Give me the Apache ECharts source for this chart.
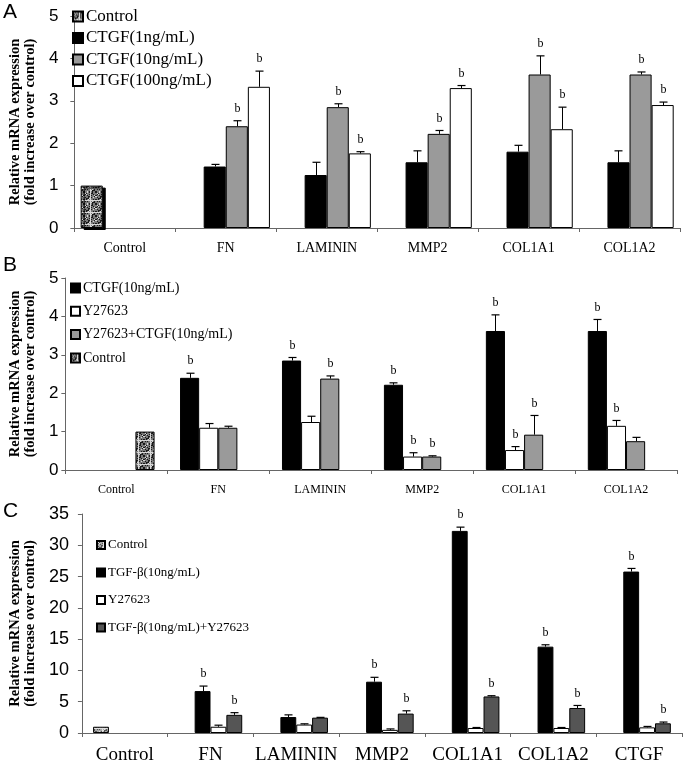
<!DOCTYPE html>
<html><head><meta charset="utf-8">
<script src="https://cdn.jsdelivr.net/npm/echarts@6/dist/echarts.min.js"></script>
<style>html,body{margin:0;padding:0;background:#fff}#c{width:684px;height:772px}</style>
</head><body><div id="c"></div>
<script>
// ---------- Panel A ----------
const catsA = ['Control','FN','LAMININ','MMP2','COL1A1','COL1A2'];
const aControl    = [1.0,'-','-','-','-','-'];
const aCtgf1      = ['-',1.45,1.25,1.55,1.80,1.55];
const aCtgf1Sd    = [0,0.05,0.30,0.27,0.15,0.27];
const aCtgf1Sig   = [0,0,0,0,0,0];
const aCtgf10     = ['-',2.40,2.85,2.22,3.62,3.62];
const aCtgf10Sd   = [0,0.13,0.08,0.08,0.44,0.06];
const aCtgf10Sig  = [0,1,1,1,1,1];
const aCtgf100    = ['-',3.33,1.76,3.30,2.33,2.90];
const aCtgf100Sd  = [0,0.37,0.04,0.06,0.52,0.07];
const aCtgf100Sig = [0,1,1,1,1,1];

// ---------- Panel B ----------
const catsB = ['Control','FN','LAMININ','MMP2','COL1A1','COL1A2'];
const bCtgf10     = ['-',2.40,2.85,2.22,3.62,3.62];
const bCtgf10Sd   = [0,0.12,0.08,0.05,0.42,0.30];
const bCtgf10Sig  = [0,1,1,1,1,1];
const bY          = ['-',1.10,1.25,0.35,0.52,1.15];
const bYSd        = [0,0.11,0.15,0.10,0.09,0.14];
const bYSig       = [0,0,0,1,1,1];
const bYCtgf      = ['-',1.10,2.38,0.35,0.92,0.75];
const bYCtgfSd    = [0,0.04,0.07,0.02,0.50,0.10];
const bYCtgfSig   = [0,0,1,1,1,0];
const bControl    = [1.0,'-','-','-','-','-'];

// ---------- Panel C ----------
const catsC = ['Control','FN','LAMININ','MMP2','COL1A1','COL1A2','CTGF'];
const cControl    = [1.0,'-','-','-','-','-','-'];
const cTgf        = ['-',6.7,2.55,8.2,32.3,13.8,25.8];
const cTgfSd      = [0,0.8,0.35,0.7,0.6,0.3,0.5];
const cTgfSig     = [0,1,0,1,1,1,1];
const cY          = ['-',1.0,1.35,0.5,0.8,0.8,0.9];
const cYSd        = [0,0.25,0.12,0.15,0.08,0.08,0.15];
const cYSig       = [0,0,0,0,0,0,0];
const cTgfY       = ['-',2.9,2.45,3.1,5.84,4.0,1.55];
const cTgfYSd     = [0,0.35,0.05,0.45,0.12,0.4,0.2];
const cTgfYSig    = [0,1,0,1,1,1,1];

function makePattern(base, dark, light){
  const cv = document.createElement('canvas'); cv.width = 12; cv.height = 12;
  const ctx = cv.getContext('2d');
  ctx.fillStyle = base; ctx.fillRect(0,0,12,12);
  for (let i=0;i<12;i++) for (let j=0;j<12;j++){
    const h = (i*73 + j*151 + i*j*17) % 11;
    if (h < 3) { ctx.fillStyle = dark; ctx.fillRect(i,j,1,1); }
    else if (h > 8) { ctx.fillStyle = light; ctx.fillRect(i,j,1,1); }
  }
  return {image: cv, repeat: 'repeat'};
}
const patDark = makePattern('#7a7a7a','#1a1a1a','#d8d8d8');
const patLight = makePattern('#a8a8a8','#555','#e0e0e0');

const serif = '"Liberation Serif","Times New Roman",serif';
const sans = '"Liberation Sans",Arial,sans-serif';

function barS(pi, name, data, color, gap, extra){
  return Object.assign({
    type:'bar', name, xAxisIndex:pi, yAxisIndex:pi, data,
    barGap:'0%', barCategoryGap: (gap*100)+'%',
    itemStyle:{color, borderColor:'#000', borderWidth:1},
    emphasis:{disabled:true}, animation:false
  }, extra||{});
}
function errS(pi, slot, n, gap, vals, sds, sigs){
  const data = [];
  vals.forEach((v,i)=>{ if (v !== '-') data.push([i, v, sds[i], sigs[i]]); });
  return {
    type:'custom', xAxisIndex:pi, yAxisIndex:pi, z:5, silent:true, clip:false, animation:false,
    data,
    renderItem(params, api){
      const ci = api.value(0), v = api.value(1), sd = api.value(2), sg = api.value(3);
      const band = api.size([1,0])[0];
      const gw = band*(1-gap), bw = gw/n;
      const c0 = api.coord([ci, v]); const c1 = api.coord([ci, v+sd]);
      const x = Math.round(c0[0] - gw/2 + bw*(slot+0.5)) + 0.5;
      const ch = [];
      if (sd > 0){
        ch.push({type:'line', shape:{x1:x,y1:c0[1],x2:x,y2:c1[1]}, style:{stroke:'#000',lineWidth:1}});
        ch.push({type:'line', shape:{x1:x-4,y1:c1[1],x2:x+4,y2:c1[1]}, style:{stroke:'#000',lineWidth:1.2}});
      }
      if (sg) ch.push({type:'text', style:{text:'b', x:x, y:c1[1]-6, align:'center', verticalAlign:'bottom', font:'12px '+serif, fill:'#000'}});
      return {type:'group', children:ch};
    }
  };
}

const gA = 0.125, gB = 0.25, gC = 0.26;
const series = [
  barS(0,'A:Control',aControl,patDark,gA,{itemStyle:{color:patDark,borderColor:'#000',borderWidth:1,shadowColor:'#000',shadowOffsetX:3,shadowOffsetY:2,shadowBlur:0}}),
  barS(0,'A:CTGF(1ng/mL)',aCtgf1,'#000',gA),
  barS(0,'A:CTGF(10ng/mL)',aCtgf10,'#9a9a9a',gA),
  barS(0,'A:CTGF(100ng/mL)',aCtgf100,'#fff',gA),
  errS(0,1,4,gA,aCtgf1,aCtgf1Sd,aCtgf1Sig),
  errS(0,2,4,gA,aCtgf10,aCtgf10Sd,aCtgf10Sig),
  errS(0,3,4,gA,aCtgf100,aCtgf100Sd,aCtgf100Sig),

  barS(1,'B:CTGF(10ng/mL)',bCtgf10,'#000',gB),
  barS(1,'B:Y27623',bY,'#fff',gB),
  barS(1,'B:Y27623+CTGF(10ng/mL)',bYCtgf,'#9a9a9a',gB),
  barS(1,'B:Control',bControl,patDark,gB),
  errS(1,0,4,gB,bCtgf10,bCtgf10Sd,bCtgf10Sig),
  errS(1,1,4,gB,bY,bYSd,bYSig),
  errS(1,2,4,gB,bYCtgf,bYCtgfSd,bYCtgfSig),

  barS(2,'C:Control',cControl,patLight,gC),
  barS(2,'C:TGF-β(10ng/mL)',cTgf,'#000',gC),
  barS(2,'C:Y27623',cY,'#fff',gC),
  barS(2,'C:TGF-β(10ng/mL)+Y27623',cTgfY,'#555',gC),
  errS(2,1,4,gC,cTgf,cTgfSd,cTgfSig),
  errS(2,2,4,gC,cY,cYSd,cYSig),
  errS(2,3,4,gC,cTgfY,cTgfYSd,cTgfYSig)
];

const yName = 'Relative mRNA expression\n(fold increase over control)';
function yAx(pi, max, interval, gap, fs, margin){
  return {type:'value', gridIndex:pi, min:0, max, interval,
    axisLine:{show:true, lineStyle:{color:'#666', width:1}},
    axisTick:{show:true, length:4, lineStyle:{color:'#666'}},
    splitLine:{show:false},
    axisLabel:{fontFamily:sans, fontSize:fs, color:'#000', margin},
    name:yName, nameLocation:'middle', nameRotate:90, nameGap:gap,
    nameTextStyle:{fontFamily:serif, fontWeight:'bold', fontSize:14.5, lineHeight:15, color:'#000'}
  };
}
function xAx(pi, cats, fs, margin){
  return {type:'category', gridIndex:pi, data:cats,
    axisLine:{show:true, lineStyle:{color:'#666', width:1}},
    axisTick:{show:true, length:4, alignWithLabel:false, lineStyle:{color:'#666'}},
    axisLabel:{fontFamily:serif, fontSize:fs, color:'#000', margin, interval:0}
  };
}
function leg(names, left, top, fs, lh, gap, icon){
  return {data:names, orient:'vertical', left, top, padding:0, itemGap:gap,
    itemWidth:icon, itemHeight:icon, icon:'rect', selectedMode:false,
    formatter: n => n.slice(2),
    textStyle:{fontFamily:serif, fontSize:fs, lineHeight:lh, color:'#000', padding:[0,0,0,-2]}};
}

const chart = echarts.init(document.getElementById('c'), null, {renderer:'canvas'});
chart.setOption({
  backgroundColor:'#fff',
  animation:false,
  grid:[
    {left:62, top:16, width:618, height:212},
    {left:55, top:278, width:622, height:192},
    {left:77, top:514, width:605, height:219}
  ],
  xAxis:[xAx(0,catsA,14,13), xAx(1,catsB,12,14), xAx(2,catsC,19,13)],
  yAxis:[yAx(0,5,1,25,17,16), yAx(1,5,1,20,17,7), yAx(2,35,5,38,18,13)],
  legend:[
    leg(['A:Control','A:CTGF(1ng/mL)','A:CTGF(10ng/mL)','A:CTGF(100ng/mL)'],72,8,17,17,4.5,10),
    leg(['B:CTGF(10ng/mL)','B:Y27623','B:Y27623+CTGF(10ng/mL)','B:Control'],70,281,14,14,9.3,9),
    leg(['C:Control','C:TGF-β(10ng/mL)','C:Y27623','C:TGF-β(10ng/mL)+Y27623'],96,538,13,14,13.5,8)
  ],
  graphic:[
    {type:'text', left:3, top:2, style:{text:'A', font:'21px '+sans, fill:'#000'}},
    {type:'text', left:3, top:255, style:{text:'B', font:'21px '+sans, fill:'#000'}},
    {type:'text', left:3, top:501, style:{text:'C', font:'21px '+sans, fill:'#000'}}
  ],
  series
});
</script></body></html>
